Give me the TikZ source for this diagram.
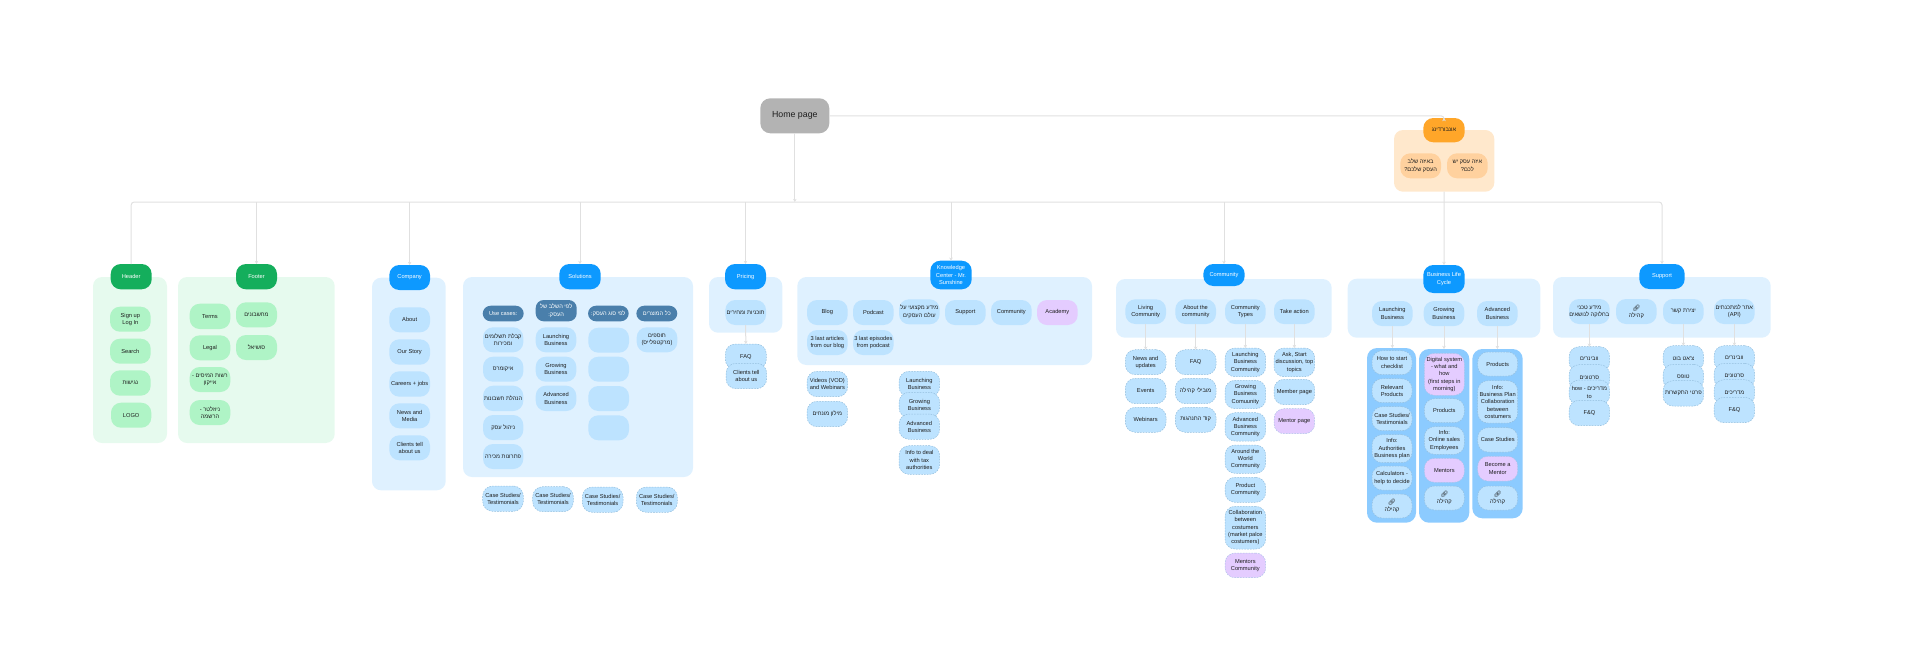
\documentclass[tikz,border=0pt]{standalone}
\usepackage{fontspec}
\usetikzlibrary{arrows.meta}
\setmainfont{Liberation Sans}
\newfontfamily\hefont[Script=Hebrew]{Liberation Sans}
\newfontfamily\emojifont{Noto Emoji}
\TeXXeTstate=1
\newcommand\heb[1]{{\hefont\beginR #1\endR}}
\newcommand\lnk{{\emojifont\fontsize{3.2}{3.65}\selectfont 🔗}}
\definecolor{gpanel}{HTML}{E6FAEE}
\definecolor{gitem}{HTML}{AFF4C6}
\definecolor{gnode}{HTML}{14AE5C}
\definecolor{bpanel}{HTML}{DFF1FF}
\definecolor{bitem}{HTML}{BDE3FF}
\definecolor{bnode}{HTML}{0D99FF}
\definecolor{bdark}{HTML}{4A7FAB}
\definecolor{bcol}{HTML}{8CCBFF}
\definecolor{purp}{HTML}{E4CCFF}
\definecolor{opanel}{HTML}{FFE8CC}
\definecolor{oitem}{HTML}{FFD19E}
\definecolor{onode}{HTML}{FFA629}
\definecolor{homeg}{HTML}{B3B3B3}
\definecolor{ink}{HTML}{1E1E1E}
\definecolor{conncol}{HTML}{E0E0E0}
\definecolor{dashc}{HTML}{93BEDD}
\tikzset{
  bxbase/.style={inner sep=0pt,outer sep=0pt,align=center,text=ink,rounded corners=5pt,
    font=\fontsize{2.85}{3.65}\selectfont},
  panelG/.style={bxbase,rounded corners=4.5pt,fill=gpanel},
  panelB/.style={bxbase,rounded corners=4.5pt,fill=bpanel},
  panelO/.style={bxbase,rounded corners=4.5pt,fill=opanel},
  colB/.style={bxbase,fill=bcol,rounded corners=5pt},
  topG/.style={bxbase,fill=gnode,text=white},
  topB/.style={bxbase,fill=bnode,text=white},
  topO/.style={bxbase,fill=onode},
  itemG/.style={bxbase,fill=gitem},
  itemB/.style={bxbase,fill=bitem},
  itemO/.style={bxbase,fill=oitem},
  itemP/.style={bxbase,fill=purp},
  darkB/.style={bxbase,rounded corners=4pt,fill=bdark,text=white},
  dashB/.style={bxbase,fill=bitem,draw=dashc,line width=0.25pt,dash pattern=on 0.8pt off 0.6pt},
  dashP/.style={bxbase,fill=purp,draw=dashc!70!purp,line width=0.25pt,dash pattern=on 0.8pt off 0.6pt},
  homebox/.style={bxbase,fill=homeg,font=\fontsize{4.4}{5}\selectfont},
  conn/.style={draw=conncol,line width=0.5pt,rounded corners=1.5pt,-{Stealth[length=1.6pt,width=1.8pt]}},
}
\newcommand\bx[7]{%
  \pgfmathsetlengthmacro\bxw{(#5-#3)*0.5pt}%
  \pgfmathsetlengthmacro\bxh{(#6-#4)*0.5pt}%
  \node[#1,minimum width=\bxw,minimum height=\bxh] (#2) at ({(#3+#5)/2},{(#4+#6)/2}) {#7};}
\begin{document}
\begin{tikzpicture}[x=0.5pt,y=-0.5pt]
\useasboundingbox (0,0) rectangle (1920,654);
% panels
\bx{panelO}{pOnb}{1394}{130}{1494.3}{191.7}{}
\bx{panelG}{pHeader}{93}{277}{167}{443}{}
\bx{panelG}{pFooter}{178}{277}{334.7}{443}{}
\bx{panelB}{pCompany}{372}{277.7}{445.7}{490.3}{}
\bx{panelB}{pSolutions}{463}{277}{693}{477}{}
\bx{panelB}{pPricing}{709}{277}{782.3}{332.7}{}
\bx{panelB}{pKnow}{797.3}{277}{1092}{365}{}
\bx{panelB}{pCommunity}{1116}{279}{1331.7}{337.7}{}
\bx{panelB}{pLife}{1347.7}{278.7}{1540.3}{337.7}{}
\bx{panelB}{pSupport}{1553}{277}{1770.7}{337.7}{}
\bx{colB}{cLaunch}{1367}{348}{1416}{522.7}{}
\bx{colB}{cGrow}{1419}{349}{1469.3}{522.7}{}
\bx{colB}{cAdv}{1472.3}{349}{1522.7}{518.3}{}
% home
\bx{homebox}{home}{760.3}{98.3}{829.3}{133.3}{Home page}
% onboarding
\bx{topO}{onb}{1423.3}{118}{1464.7}{142.3}{\heb{אונבורדינג}}
\bx{itemO}{onbA}{1400.3}{153.3}{1441}{178.3}{\heb{באיזה שלב}\\\heb{העסק שלכם?}}
\bx{itemO}{onbB}{1447}{153.3}{1487.7}{178.3}{\heb{איזה עסק יש}\\\heb{לכם?}}
% header
\bx{topG}{header}{110.7}{264}{151.7}{289.3}{Header}
\bx{itemG}{hA}{110}{306.7}{150.7}{331.7}{Sign up\\Log In}
\bx{itemG}{hB}{110}{338.7}{150.7}{363.7}{Search}
\bx{itemG}{hC}{110}{370.3}{150.7}{395.7}{\heb{נגישות}}
\bx{itemG}{hD}{111}{402.7}{151.3}{427.7}{LOGO}
% footer
\bx{topG}{footer}{236}{264}{277}{289.3}{Footer}
\bx{itemG}{fA}{189.7}{303.7}{230.3}{329}{Terms}
\bx{itemG}{fB}{189.7}{335.3}{230.3}{360.3}{Legal}
\bx{itemG}{fC}{189.7}{367}{230.3}{392}{\heb{רשות המיסים -}\\\heb{אייקון}}
\bx{itemG}{fD}{189.7}{400}{230.3}{425}{\heb{ניוזלטר -}\\\heb{הרשמה}}
\bx{itemG}{fE}{236}{302.3}{277}{327.3}{\heb{מחשבונים}}
\bx{itemG}{fF}{236}{335}{277}{360}{\heb{סושיאל}}
% company
\bx{topB}{company}{389.3}{265}{430}{290}{Company}
\bx{itemB}{cA}{389.3}{307.3}{430}{332.3}{About}
\bx{itemB}{cB}{389.3}{339.3}{430}{364.7}{Our Story}
\bx{itemB}{cC}{389.3}{371.3}{430}{396.7}{Careers + jobs}
\bx{itemB}{cD}{389.3}{403.3}{430}{428.3}{News and\\Media}
\bx{itemB}{cE}{389.3}{435.3}{430}{460.3}{Clients tell\\about us}
% solutions
\bx{topB}{solutions}{559.3}{264}{600.7}{289.3}{Solutions}
\bx{darkB}{sH1}{482.7}{305.7}{523.7}{321.3}{Use cases:}
\bx{darkB}{sH2}{535.7}{300}{576.7}{321.3}{\heb{לפי השלב של}\\\heb{העסק:}}
\bx{darkB}{sH3}{588}{305.7}{628.7}{321.3}{\heb{לפי סוג העסק:}}
\bx{darkB}{sH4}{636.3}{305.7}{677.3}{321.3}{\heb{כל המוצרים}}
\bx{itemB}{s1a}{483}{327.3}{523.3}{352.3}{\heb{קבלת תשלומים}\\\heb{ומכירות}}
\bx{itemB}{s1b}{483}{356.7}{523.3}{381.7}{\heb{איקומרס}}
\bx{itemB}{s1c}{483}{385.7}{523.3}{411}{\heb{הנהלת חשבונות}}
\bx{itemB}{s1d}{483}{415}{523.3}{440}{\heb{ניהול עסק}}
\bx{itemB}{s1e}{483}{444}{523.3}{469}{\heb{פתרונות מכירה}}
\bx{itemB}{s2a}{535.7}{327.3}{576.3}{352.3}{Launching\\Business}
\bx{itemB}{s2b}{535.7}{356.7}{576.3}{381.7}{Growing\\Business}
\bx{itemB}{s2c}{535.7}{385.7}{576.3}{411}{Advanced\\Business}
\bx{itemB}{s3a}{588.3}{327.7}{629}{352.7}{}
\bx{itemB}{s3b}{588.3}{356.7}{629}{381.7}{}
\bx{itemB}{s3c}{588.3}{386}{629}{411}{}
\bx{itemB}{s3d}{588.3}{415.3}{629}{440.3}{}
\bx{itemB}{s4a}{636.7}{327.3}{677.3}{352.3}{\heb{תוספים}\\\heb{(מרקטפלייס)}}
\bx{dashB}{cs1}{482.7}{486}{523.3}{511.3}{Case Studies/\\Testimonials}
\bx{dashB}{cs2}{532.7}{486.7}{573.3}{511.7}{Case Studies/\\Testimonials}
\bx{dashB}{cs3}{582.3}{487}{623}{512.3}{Case Studies/\\Testimonials}
\bx{dashB}{cs4}{636.3}{487}{677.3}{512.3}{Case Studies/\\Testimonials}
% pricing
\bx{topB}{pricing}{725}{264}{766}{289.3}{Pricing}
\bx{itemB}{prA}{725.3}{300}{766}{325}{\heb{תוכניות ומחירים}}
\bx{dashB}{prB}{725.3}{344}{766.3}{369.3}{FAQ}
\bx{dashB}{prC}{726}{363.3}{766.7}{388.7}{Clients tell\\about us}
% knowledge
\bx{topB}{know}{930.3}{260.7}{971.7}{289.3}{Knowledge\\Center - Mr.\\Sunshine}
\bx{itemB}{kA}{807}{300}{847.7}{325}{Blog}
\bx{itemB}{kB}{853}{300}{893.7}{325}{Podcast}
\bx{itemB}{kC}{899}{299.3}{939.7}{324.3}{\heb{מידע מקצועי על}\\\heb{עולם העסקים}}
\bx{itemB}{kD}{945}{300}{985.7}{325}{Support}
\bx{itemB}{kE}{991}{300}{1031.7}{325}{Community}
\bx{itemP}{kF}{1037}{300}{1077.7}{325}{Academy}
\bx{itemB}{kG}{807}{330}{847.7}{355}{3 last articles\\from our blog}
\bx{itemB}{kH}{853}{330}{893.7}{355}{3 last episodes\\from podcast}
\bx{dashB}{kI}{807}{371.3}{847.7}{396.7}{Videos (VOD)\\and Webinars}
\bx{dashB}{kJ}{807}{401.3}{847.7}{426.7}{\heb{מילון מונחים}}
\bx{dashB}{kK}{899}{371.3}{939.7}{396.7}{Launching\\Business}
\bx{dashB}{kL}{899}{392.3}{939.7}{417.7}{Growing\\Business}
\bx{dashB}{kM}{899}{414}{939.7}{439.3}{Advanced\\Business}
\bx{dashB}{kN}{899}{445.7}{939.7}{474.3}{Info to deal\\with tax\\authorities}
% community
\bx{topB}{community}{1203.3}{264}{1244.7}{286}{Community}
\bx{itemB}{coA}{1125.3}{299.3}{1166}{324}{Living\\Community}
\bx{itemB}{coB}{1175.3}{299.3}{1216}{324}{About the\\community}
\bx{itemB}{coC}{1225}{299.3}{1265.7}{324}{Community\\Types}
\bx{itemB}{coD}{1274}{299.3}{1314.7}{324}{Take action}
\bx{dashB}{co1a}{1125.3}{349.7}{1166}{374.7}{News and\\updates}
\bx{dashB}{co1b}{1125.3}{378.3}{1166}{403.7}{Events}
\bx{dashB}{co1c}{1125.3}{407.3}{1166}{432.3}{Webinars}
\bx{dashB}{co2a}{1175.3}{349.7}{1216}{374.7}{FAQ}
\bx{dashB}{co2b}{1175.3}{378.3}{1216}{403.7}{\heb{מובילי קהילה}}
\bx{dashB}{co2c}{1175.3}{407.3}{1216}{432.3}{\heb{קוד התנהגות}}
\bx{dashB}{co3a}{1225}{348}{1265.7}{376.7}{Launching\\Business\\Community}
\bx{dashB}{co3b}{1225}{380.3}{1265.7}{408.7}{Growing\\Business\\Comuunity}
\bx{dashB}{co3c}{1225}{412.7}{1265.7}{441}{Advanced\\Business\\Community}
\bx{dashB}{co3d}{1225}{445}{1265.7}{473.3}{Around the\\World\\Community}
\bx{dashB}{co3e}{1225}{477.3}{1265.7}{502.3}{Product\\Community}
\bx{dashB}{co3f}{1225}{506.3}{1265.7}{549}{Collaboration\\between\\costumers\\(market palce\\costumers)}
\bx{dashP}{co3g}{1225}{553}{1265.7}{577.7}{Mentors\\Community}
\bx{dashB}{co4a}{1274}{348}{1314.7}{376.7}{Ask, Start\\discussion, top\\topics}
\bx{dashB}{co4b}{1274}{379.3}{1314.7}{404.7}{Member page}
\bx{dashP}{co4c}{1274}{408.7}{1314.7}{433.7}{Mentor page}
% life cycle
\bx{topB}{life}{1423.3}{265}{1464.7}{293}{Business Life\\Cycle}
\bx{itemB}{lA}{1372}{301}{1412.7}{326}{Launching\\Business}
\bx{itemB}{lB}{1423.7}{301}{1464.3}{326}{Growing\\Business}
\bx{itemB}{lC}{1477}{301}{1517.7}{326}{Advanced\\Business}
\bx{dashB}{l1a}{1372}{350.7}{1412}{374.7}{How to start\\checklist}
\bx{dashB}{l1b}{1372}{378.7}{1412}{402.7}{Relevant\\Products}
\bx{dashB}{l1c}{1372}{406.7}{1412}{430.7}{Case Studies/\\Testimonials}
\bx{dashB}{l1d}{1372}{434.7}{1412}{462.7}{Info:\\Authorities\\Business plan}
\bx{dashB}{l1e}{1372}{466}{1412}{490}{Calculators -\\help to decide}
\bx{dashB}{l1f}{1372}{494}{1412}{518}{\lnk\\\heb{קהילה}}
\bx{dashP}{l2a}{1424.3}{353.3}{1464.3}{395.3}{Digital system\\- what and\\how\\(first steps in\\morning)}
\bx{dashB}{l2b}{1424.3}{398.7}{1464.3}{422.7}{Products}
\bx{dashB}{l2c}{1424.3}{426.7}{1464.3}{454.3}{Info:\\Online sales\\Employees}
\bx{dashP}{l2d}{1424.3}{458.3}{1464.3}{482.3}{Mentors}
\bx{dashB}{l2e}{1424.3}{486}{1464.3}{510}{\lnk\\\heb{קהילה}}
\bx{dashB}{l3a}{1477.7}{352}{1517.7}{376}{Products}
\bx{dashB}{l3b}{1477.7}{380.7}{1517.7}{423}{Info:\\Business Plan\\Collaboration\\between\\costumers}
\bx{dashB}{l3c}{1477.7}{427.7}{1517.7}{452}{Case Studies}
\bx{dashP}{l3d}{1477.7}{456.3}{1517.7}{481}{Become a\\Mentor}
\bx{dashB}{l3e}{1477.7}{486}{1517.7}{510}{\lnk\\\heb{קהילה}}
% support
\bx{topB}{support}{1639.3}{264}{1684.7}{289}{Support}
\bx{itemB}{suA}{1569}{299}{1609.7}{324}{\heb{מידע טכני}\\\heb{בחלוקה לנושאים}}
\bx{itemB}{suB}{1616}{299}{1656.7}{324}{\lnk\\\heb{קהילה}}
\bx{itemB}{suC}{1663}{299}{1703.7}{324}{\heb{יצירת קשר}}
\bx{itemB}{suD}{1714}{299}{1754.7}{324}{\heb{אתר למתכנתים}\\(API)}
\bx{dashB}{su1a}{1569}{346.7}{1609.7}{371.7}{\heb{וובינרים}}
\bx{dashB}{su1b}{1569}{364.7}{1609.7}{390}{\heb{סרטונים}}
\bx{dashB}{su1c}{1569}{380}{1609.7}{405}{\heb{מדריכים - \beginL how\endL}\\to}
\bx{dashB}{su1d}{1569}{400.3}{1609.7}{425.7}{F\&Q}
\bx{dashB}{su3a}{1663}{345.7}{1703.7}{370.7}{\heb{צ'אט בוט}}
\bx{dashB}{su3b}{1663}{364.3}{1703.7}{389.3}{\heb{טופס}}
\bx{dashB}{su3c}{1663}{380.7}{1703.7}{406}{\heb{פרטי התקשרות}}
\bx{dashB}{su4a}{1714}{345.7}{1754.7}{370.7}{\heb{וובינרים}}
\bx{dashB}{su4b}{1714}{363.3}{1754.7}{388.3}{\heb{סרטונים}}
\bx{dashB}{su4c}{1714}{379.7}{1754.7}{405}{\heb{מדריכים}}
\bx{dashB}{su4d}{1714}{397.3}{1754.7}{422.7}{F\&Q}
% connectors
\coordinate (busY) at (794.8,202);
\draw[conn] (header.north) |- (busY) -| (support.north);
\draw[conn] (home.south) -- (busY);
\foreach \t in {footer,company,solutions,pricing,know,community}
  \draw[conn] (\t.north |- busY) -- (\t.north);
\draw[conn] (home.east) -| (onb.north);
\draw[conn] (pOnb.south) -- (life.north);
\draw[conn] (prA.south) -- (prB.north);
\draw[conn] (coA.south) -- (co1a.north);
\draw[conn] (coB.south) -- (co2a.north);
\draw[conn] (coC.south) -- (co3a.north);
\draw[conn] (coD.south) -- (co4a.north);
\draw[conn] (lA.south) -- (cLaunch.north -| lA.south);
\draw[conn] (lB.south) -- (cGrow.north -| lB.south);
\draw[conn] (lC.south) -- (cAdv.north -| lC.south);
\draw[conn] (suA.south) -- (su1a.north);
\draw[conn] (suC.south) -- (su3a.north);
\draw[conn] (suD.south) -- (su4a.north);
\end{tikzpicture}
\end{document}
